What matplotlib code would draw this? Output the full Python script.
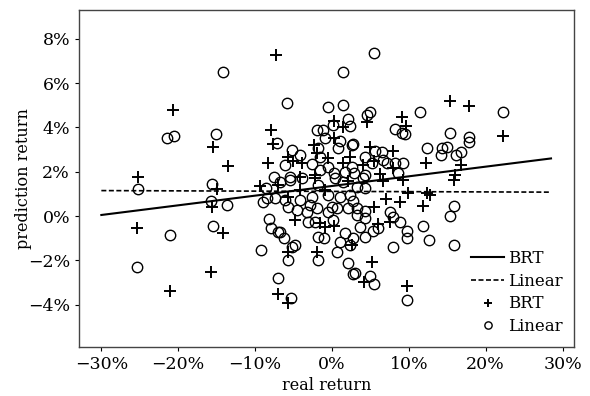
import matplotlib
matplotlib.use('Agg')
import matplotlib.pyplot as plt
from matplotlib.ticker import FuncFormatter

plt.rcParams['font.family'] = ['DejaVu Serif']

# BRT predictions (+), values in %
brt_x = [-20.7, -25.2, -25.4, -21.1,
         -7.3, -15.5, -13.5, -7.9, -7.7, -8.3,
         -15.0, -9.4, -15.6, -14.2, -15.7, -7.0,
         -2.2, 2.1, -7.0, -4.2, -5.7, -0.9, -4.8, -1.6, -0.9, 0.26, -5.7, -2.0, -5.7,
         0.3, 1.4, 0.3, -2.3, -5.7, -5.1, -3.9, -2.0, -0.5, 1.4, 2.3, -2.2, -4.2,
         4.5, 9.1, 9.6, 4.9, 7.9, 5.5, 12.2, 4.0, 7.9, 6.2,
         6.6, 9.2, 9.9, 12.4, 7.0, 8.8, 5.5, 11.8, 7.5, 6.0, 2.6, 5.2, 4.2, 9.8,
         15.3, 17.8, 22.2, 16.8, 16.0, 15.9, 12.7]
brt_y = [4.8, 1.76, -0.55, -3.4,
         7.25, 3.1, 2.25, 3.9, 3.25, 2.4,
         1.2, 1.35, 0.4, -0.77, -2.5, -3.5,
         1.7, 1.6, 1.4, 1.17, 0.86, 1.17, -0.18, -0.32, -0.5, -0.45, -1.6, -1.6, -3.9,
         4.3, 4.0, 3.5, 3.2, 2.65, 2.5, 2.4, 2.85, 2.6, 2.4, 2.65, 1.85, 1.75,
         4.25, 4.45, 4.05, 3.1, 2.95, 2.5, 2.4, 2.3, 2.15, 1.9,
         1.6, 1.65, 1.05, 1.05, 0.77, 0.63, 0.4, 0.45, -0.27, -0.36, -1.3, -2.07, -2.97, -3.15,
         5.2, 4.95, 3.6, 2.3, 1.85, 1.62, 0.95]

# Linear predictions (o), values in %
lin_x = [-21.4, -20.5, -25.2, -21.1, -25.4,
         -14.2, -15.1, -7.2, -7.5,
         -15.6, -8.6, -15.7, -13.7, -9.0, -8.5, -7.4, -15.5, -8.2, -7.9, -7.0, -9.2, -7.0,
         -6.8, -5.5, -3.9, -1.8, 0.4, 1.4, -6.1, -4.2, -2.6, -0.5, 1.0, 2.3, -5.7, -4.6,
         -3.3, -2.9, -2.0, -0.5, 0.0, 0.65, 2.1, -3.1, 0.1, -2.2, -6.8, -6.2, -4.8, -5.2,
         -5.7, -1.8, -1.0, 0.65, -1.8, 1.0, 1.7, 2.3, 2.1, 2.7, -5.3,
         1.4, -5.9, -0.5, 1.4, 0.1, 2.1, 2.3, -2.0, -1.2, -0.9, 1.0, -1.8, 0.8, 2.6, -5.2,
         -4.2, -6.1, -1.6, -2.6, -0.5, -1.6, 0.3, 1.7, -5.5, 2.6,
         5.5, 4.9, 4.5, 11.4, 8.2, 9.1, 9.5, 2.7, 6.5, 5.6, 4.3, 6.6, 12.4, 5.2, 7.2, 8.2,
         9.2, 8.6, 2.9, 4.3,
         4.0, 3.3, 4.3, 2.7, 3.3, 4.3, 3.3, 4.3, 7.5, 7.9, 8.8, 3.6, 6.0, 5.3, 9.8, 11.8,
         9.8, 12.6, 2.7, 4.3, 7.9, 3.0, 4.9, 5.5, 9.8,
         22.2, 15.3, 17.8, 17.8, 14.3, 15.0, 14.2, 16.8, 16.1,
         15.9, 15.3, 15.9]
lin_y = [3.5, 3.6, 1.2, -0.86, -2.3,
         6.5, 3.7, 3.3, 1.75,
         1.45, 1.25, 0.68, 0.5, 0.63, 0.8, 0.8, -0.45, -0.14, -0.54, -0.7, -1.53, -2.8,
         1.53, 1.62, 1.7, 1.4, 1.7, 1.53, 0.72, 0.72, 0.86, 0.95, 0.86, 0.95, 0.4, 0.27,
         0.18, 0.5, 0.36, 0.18, 0.4, 0.36, 0.36, -0.27, -0.18, -0.27, -0.72, -1.0, -1.3, -1.4,
         -2.0, -0.95, -1.0, -1.6, -2.0, -1.17, -0.77, -1.3, -2.1, -2.6, -3.7,
         6.5, 5.1, 4.9, 5.0, 4.1, 4.4, 4.05, 3.9, 3.9, 3.5, 3.4, 3.05, 3.05, 3.2, 3.0,
         2.75, 2.3, 2.65, 2.35, 2.2, 2.07, 1.95, 2.0, 1.75, 2.2,
         7.35, 4.7, 4.55, 4.7, 3.95, 3.75, 3.7, 3.25, 2.9, 2.95, 2.65, 2.55, 3.05, 2.4, 2.4, 2.4,
         2.4, 1.95, 1.95, 1.85,
         1.7, 1.3, 1.25, 0.68, 0.36, 0.23, 0.05, -0.09, 0.18, -0.05, -0.27, -0.5, -0.54, -0.68, -0.68, -0.45,
         -1.0, -1.1, -1.0, -0.95, -1.4, -2.57, -2.7, -3.06, -3.8,
         4.7, 3.75, 3.57, 3.33, 3.05, 3.1, 2.75, 2.9, 2.75,
         0.45, 0.0, -1.3]

# fitted lines (endpoints, %)
fit_x = [-30.0, 28.5]
fit_brt = [0.05, 2.6]
fit_lin = [1.15, 1.08]

fig = plt.figure(figsize=(5.9, 3.96), dpi=100)
ax = fig.add_axes([0.134, 0.124, 0.839, 0.851])

ax.plot(fit_x, fit_brt, color='black', linestyle='-', linewidth=1.5, label='BRT')
ax.plot(fit_x, fit_lin, color='black', linestyle=(0, (3, 1.5)), linewidth=1.2, label='Linear')
ax.plot(brt_x, brt_y, linestyle='none', marker='+', markersize=8, markeredgewidth=1.4,
        color='black', label='BRT')
ax.plot(lin_x, lin_y, linestyle='none', marker='o', markersize=7.5, markeredgewidth=1.0,
        markerfacecolor='none', markeredgecolor='black', label='Linear')

ax.set_xlim(-32.9, 31.5)
ax.set_ylim(-5.9, 9.3)
ax.set_xticks([-30, -20, -10, 0, 10, 20, 30])
ax.set_yticks([-4, -2, 0, 2, 4, 6, 8])
pct = FuncFormatter(lambda v, p: '\u2212%d%%' % abs(v) if v < 0 else '%d%%' % v)
ax.xaxis.set_major_formatter(pct)
ax.yaxis.set_major_formatter(pct)
ax.tick_params(labelsize=12.5, length=3, width=0.8, direction='out')

for s in ax.spines.values():
    s.set_color('#444444')
    s.set_linewidth(1.0)

ax.set_xlabel('real return', fontsize=11.5, labelpad=3)
ax.set_ylabel('prediction return', fontsize=11.5, labelpad=-3)

ax.legend(loc='lower right', bbox_to_anchor=(1.0, 0.0), frameon=False, fontsize=12,
          handlelength=2.0, handletextpad=0.2, labelspacing=0.35, markerscale=0.7,
          borderaxespad=0.3)

plt.savefig('out.png', dpi=100)
